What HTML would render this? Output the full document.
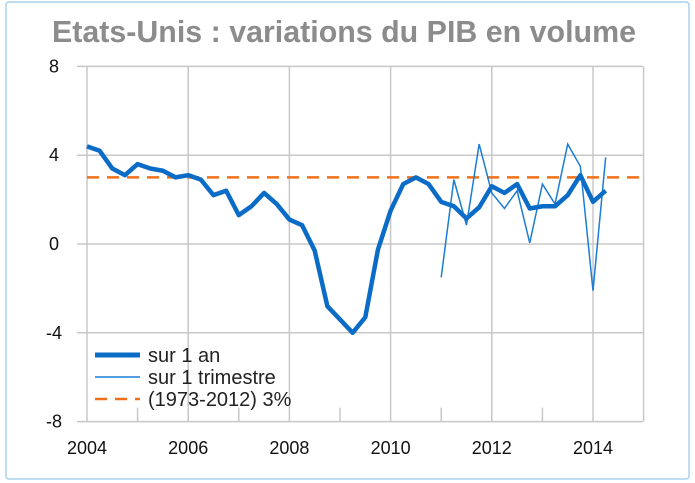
<!DOCTYPE html>
<html><head><meta charset="utf-8"><style>
body{margin:0;background:#fff;}
svg{display:block;font-family:"Liberation Sans",sans-serif;}
</style></head><body>
<svg id="c" width="695" height="483">
<rect x="6" y="2" width="683" height="477" rx="3" fill="#fff" stroke="#a9d0ee" stroke-width="1.5"/>
<text x="344" y="42" text-anchor="middle" font-size="31" font-weight="600" fill="#8c8c8c" transform="translate(344 0) scale(0.98 1) translate(-344 0)">Etats-Unis : variations du PIB en volume</text>
<g id="grid"></g><g id="series"></g>
<g>
<line x1="95" y1="355" x2="140" y2="355" stroke="#0a6cc6" stroke-width="5"/>
<text x="148" y="362" font-size="20" fill="#222">sur 1 an</text>
<line x1="95" y1="377" x2="140" y2="377" stroke="#1a7dd6" stroke-width="1.5"/>
<text x="148" y="384" font-size="20" fill="#222">sur 1 trimestre</text>
<line x1="95" y1="399" x2="140" y2="399" stroke="#f07019" stroke-width="2.5" stroke-dasharray="12,8"/>
<text x="148" y="406" font-size="20" fill="#222">(1973-2012) 3%</text>
</g>
</svg>
<script>
const yTicks=[8,4,0,-4,-8];
const xTicks=[2004,2006,2008,2010,2012,2014];
const annualStart=2004;
const annualValues=[4.4,4.2,3.4,3.1,3.6,3.4,3.3,3.0,3.1,2.9,2.2,2.4,1.3,1.7,2.3,1.8,1.1,0.85,-0.3,-2.8,-3.4,-4.0,-3.3,-0.25,1.5,2.7,3.0,2.7,1.9,1.7,1.15,1.65,2.6,2.3,2.7,1.6,1.7,1.7,2.2,3.1,1.9,2.4];
const quarterlyStart=2011;
const quarterlyValues=[-1.5,2.9,0.85,4.5,2.3,1.6,2.4,0.05,2.7,1.8,4.5,3.5,-2.1,3.9];
const averageValue=3;
const NS="http://www.w3.org/2000/svg";
const X=v=>87+(v-2004)*50.6;
const Y=v=>244-v*22.2;
function mk(t,a,p){const e=document.createElementNS(NS,t);for(const k in a)e.setAttribute(k,a[k]);p.appendChild(e);return e;}
const g=document.getElementById('grid');
for(const t of yTicks){
 const l=mk('line',{x1:77,x2:643,y1:Y(t),y2:Y(t),stroke:'#c8c8c8','stroke-width':1.5},g);
 
 
 const tx=mk('text',{x:54,y:Y(t)+6,'text-anchor':'middle','font-size':18,fill:'#111'},g);
 tx.textContent=t;
 
 
}
for(let yr=2004;yr<=2015;yr++){
 const major=(yr%2===0)||yr===2015;
 const l=mk('line',{x1:X(yr),x2:X(yr),y1:major?Y(8):Y(-8)-14,y2:Y(-8),stroke:'#c8c8c8','stroke-width':1.5},g);
 
 
}
for(const t of xTicks){
 const tx=mk('text',{x:X(t),y:454,'text-anchor':'middle','font-size':18,fill:'#111'},g);
 tx.textContent=t;
 
 
}
const s=document.getElementById('series');
const av=mk('line',{x1:X(2004),x2:X(2015),y1:Y(averageValue),y2:Y(averageValue),stroke:'#f07019','stroke-width':2.5,'stroke-dasharray':'12,8'},s);


const q=mk('polyline',{points:quarterlyValues.map((v,i)=>X(quarterlyStart+i/4)+','+Y(v)).join(' '),fill:'none',stroke:'#1a7dd6','stroke-width':1.5},s);


const a=mk('polyline',{points:annualValues.map((v,i)=>X(annualStart+i/4)+','+Y(v)).join(' '),fill:'none',stroke:'#0a6cc6','stroke-width':4.5,'stroke-linejoin':'round'},s);


</script>
</body></html>
